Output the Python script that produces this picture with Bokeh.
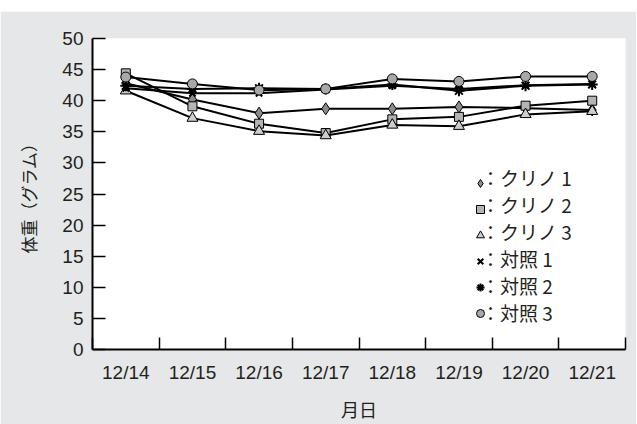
from bokeh.plotting import figure
from bokeh.models import Range1d, FixedTicker, Legend, LegendItem
from bokeh.embed import file_html
from bokeh.resources import INLINE

dates = ["12/14", "12/15", "12/16", "12/17", "12/18", "12/19", "12/20", "12/21"]
kurino1 = [42.8, 40.2, 38.0, 38.7, 38.7, 39.0, 38.8, 38.5]
kurino2 = [44.4, 39.1, 36.3, 34.8, 37.0, 37.4, 39.2, 40.0]
kurino3 = [41.6, 37.2, 35.1, 34.4, 36.1, 35.9, 37.8, 38.3]
taisho1 = [42.0, 41.2, 41.2, 41.8, 42.4, 41.9, 42.5, 42.7]
taisho2 = [42.4, 41.9, 42.0, 41.9, 42.6, 41.6, 42.4, 42.6]
taisho3 = [43.8, 42.7, 41.7, 41.9, 43.5, 43.1, 43.9, 43.9]
names = ["：クリノ 1", "：クリノ 2", "：クリノ 3", "：対照 1", "：対照 2", "：対照 3"]
y_ticks = [0, 5, 10, 15, 20, 25, 30, 35, 40, 45, 50]

GRAY_BG = "#e6e7e8"
TXT = "#231f20"
JP = "Noto Sans CJK JP"
LAT = "Liberation Sans"

xs = [i + 0.5 for i in range(len(dates))]

p = figure(width=636, height=413, output_backend="svg", toolbar_location=None,
           x_range=Range1d(0, len(dates)), y_range=Range1d(0, 50),
           min_border_left=92, min_border_right=11, min_border_top=27, min_border_bottom=72)
p.margin = (11, 1, 0, 0)
p.background_fill_color = "white"
p.border_fill_color = GRAY_BG
p.outline_line_color = None
p.grid.visible = False

styles = [
    dict(marker="diamond", fill_color="#8c8c8c", size=12),
    dict(marker="square", fill_color="#b4b4b4", size=9),
    dict(marker="triangle", fill_color="#cdcdcd", size=11),
    dict(marker="x", fill_color="black", size=9),
    dict(marker="asterisk", fill_color="black", size=11),
    dict(marker="circle", fill_color="#a8a8a8", size=10),
]
data = [kurino1, kurino2, kurino3, taisho1, taisho2, taisho3]

# invisible renderer used only to carry the legend texts
dummy = p.scatter([], [], size=1, fill_alpha=0, line_alpha=0)

marker_items = []
text_items = []
for ys, st, nm in zip(data, styles, names):
    p.line(xs, ys, line_color="black", line_width=2)
    lw = 2 if st["marker"] in ("x", "asterisk") else 1
    r = p.scatter(xs, ys, marker=st["marker"], size=st["size"], fill_color=st["fill_color"],
                  line_color="black", line_width=lw)
    marker_items.append(LegendItem(label=" ", renderers=[r]))
    text_items.append(LegendItem(label=nm, renderers=[dummy]))

common = dict(orientation="vertical", background_fill_alpha=0, border_line_color=None,
              padding=0, margin=0, spacing=0, glyph_height=26, label_height=26,
              label_text_font=JP, label_text_font_size="19px", label_text_color=TXT)

legend_markers = Legend(items=marker_items, location=(378, 23), glyph_width=20,
                        label_standoff=0, **common)
legend_texts = Legend(items=text_items, location=(388, 23), glyph_width=1,
                      label_standoff=0, **common)
p.add_layout(legend_markers)
p.add_layout(legend_texts)

# y axis
p.yaxis.ticker = FixedTicker(ticks=y_ticks)
p.yaxis.major_tick_in = 13
p.yaxis.major_tick_out = 0
p.yaxis.minor_tick_line_color = None
p.yaxis.axis_line_width = 2
p.yaxis.major_tick_line_width = 1.5
p.yaxis.major_label_text_font = LAT
p.yaxis.major_label_text_font_size = "19px"
p.yaxis.major_label_text_color = TXT
p.yaxis.major_label_standoff = 9
p.yaxis.axis_label = "体重（グラム）"
p.yaxis.axis_label_text_font = JP
p.yaxis.axis_label_text_font_size = "17px"
p.yaxis.axis_label_text_font_style = "normal"
p.yaxis.axis_label_text_color = TXT
p.yaxis.axis_label_standoff = 18

# x axis: labels at category centres, ticks at boundaries
p.xaxis.ticker = FixedTicker(ticks=xs, minor_ticks=list(range(len(dates) + 1)))
p.xaxis.major_label_overrides = {x: d for x, d in zip(xs, dates)}
p.xaxis.major_tick_line_color = None
p.xaxis.minor_tick_in = 12
p.xaxis.minor_tick_out = 0
p.xaxis.minor_tick_line_width = 1.5
p.xaxis.minor_tick_line_color = "black"
p.xaxis.axis_line_width = 2
p.xaxis.major_label_text_font = LAT
p.xaxis.major_label_text_font_size = "19px"
p.xaxis.major_label_text_color = TXT
p.xaxis.major_label_standoff = 6
p.xaxis.axis_label = "月日"
p.xaxis.axis_label_text_font = JP
p.xaxis.axis_label_text_font_size = "18px"
p.xaxis.axis_label_text_font_style = "normal"
p.xaxis.axis_label_text_color = TXT
p.xaxis.axis_label_standoff = 10

html = file_html(p, INLINE)
html = html.replace("<body>", '<body style="margin:0;background:white;">')
open("out.html", "w").write(html)
